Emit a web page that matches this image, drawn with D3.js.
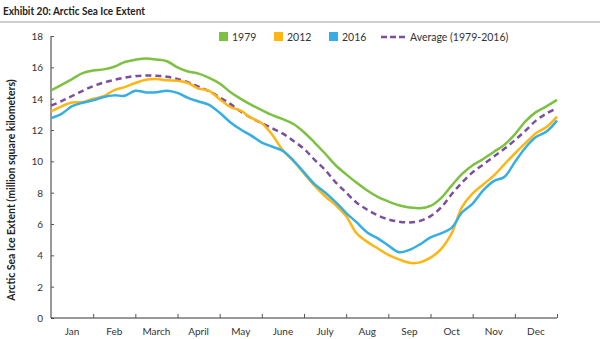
<!DOCTYPE html>
<html lang="en">
<head>
<meta charset="UTF-8">
<title>Arctic Sea Ice Extent</title>
<script src="https://cdnjs.cloudflare.com/ajax/libs/d3/7.8.5/d3.min.js"></script>
<style>
body { margin: 0; background: #fff; }
svg { font-family: Lato, "Open Sans", sans-serif; }
.title { font-size: 12px; font-weight: bold; fill: #222; }
.tick-label { font-size: 10px; fill: #333; }
.legend-text { font-size: 10.5px; fill: #333; }
.axis-title { font-size: 10.5px; font-weight: bold; fill: #222; }
</style>
</head>
<body>
<div id="chart"></div>
<script>
// month labels
var months = ['Jan', 'Feb', 'March', 'April', 'May', 'June', 'July', 'Aug', 'Sep', 'Oct', 'Nov', 'Dec'];
var yTicks = [0, 2, 4, 6, 8, 10, 12, 14, 16, 18];

// x positions in months (quarter month steps)
var pos = d3.range(0, 12.001, 0.25);

// million sq km
var y1979 = [14.52, 14.88, 15.25, 15.63, 15.8, 15.87, 16.04, 16.34, 16.49, 16.57, 16.5, 16.39,
  16.0, 15.73, 15.6, 15.33, 14.97, 14.43, 13.99, 13.61, 13.27, 12.95, 12.69, 12.38,
  11.86, 11.2, 10.5, 9.75, 9.17, 8.63, 8.14, 7.73, 7.44, 7.2, 7.06, 7.0,
  7.15, 7.65, 8.45, 9.2, 9.75, 10.15, 10.6, 11.05, 11.72, 12.55, 13.14, 13.51, 13.92];
var y2012 = [13.18, 13.51, 13.75, 13.78, 13.99, 14.16, 14.55, 14.74, 15.0, 15.21, 15.25, 15.17,
  15.14, 15.0, 14.64, 14.5, 13.97, 13.47, 13.23, 12.77, 12.43, 11.68, 10.7, 10.02,
  9.23, 8.45, 7.77, 7.2, 6.5, 5.4, 4.86, 4.44, 4.03, 3.74, 3.52, 3.55,
  3.85, 4.4, 5.4, 7.1, 7.96, 8.52, 9.09, 9.8, 10.5, 11.16, 11.8, 12.19, 12.85];
var y2016 = [12.76, 13.03, 13.52, 13.74, 13.9, 14.11, 14.21, 14.19, 14.5, 14.4, 14.41, 14.51,
  14.37, 14.05, 13.82, 13.6, 13.1, 12.5, 12.03, 11.64, 11.2, 10.93, 10.66, 10.05,
  9.3, 8.55, 8.01, 7.4, 6.7, 6.1, 5.46, 5.08, 4.63, 4.2, 4.35, 4.7,
  5.15, 5.4, 5.75, 6.75, 7.3, 8.15, 8.74, 9.0, 9.95, 10.87, 11.55, 11.9, 12.6];
var yAvg = [13.55, 13.84, 14.17, 14.5, 14.8, 15.03, 15.2, 15.34, 15.44, 15.48, 15.46, 15.4,
  15.26, 15.05, 14.76, 14.47, 14.09, 13.67, 13.18, 12.77, 12.43, 12.1, 11.77, 11.3,
  10.8, 10.1, 9.45, 8.66, 8.0, 7.36, 6.91, 6.55, 6.29, 6.15, 6.1, 6.2,
  6.5, 7.05, 7.9, 8.65, 9.3, 9.8, 10.3, 10.8, 11.35, 11.95, 12.6, 13.05, 13.4];

var series = [
  { name: '1979', values: y1979, color: '#7dc142', dash: null },
  { name: '2012', values: y2012, color: '#fdb614', dash: null },
  { name: '2016', values: y2016, color: '#35aee6', dash: null },
  { name: 'Average (1979-2016)', values: yAvg, color: '#7b4f9d', dash: '6,4' }
];

var W = 600, H = 339;
var svg = d3.select('#chart').append('svg').attr('width', W).attr('height', H);

// header
svg.append('text').attr('class', 'title').attr('x', 3).attr('y', 15)
  .attr('textLength', 142).attr('lengthAdjust', 'spacingAndGlyphs')
  .text('Exhibit 20: Arctic Sea Ice Extent');
svg.append('rect').attr('x', 0).attr('y', 21).attr('width', W).attr('height', 2).attr('fill', '#cfcfcf');

var x = d3.scaleLinear().domain([0, 12]).range([51, 557]);
var y = d3.scaleLinear().domain([0, 18]).range([318, 36]);

// axes
var yAxis = svg.append('g').attr('transform', 'translate(51,0)')
  .call(d3.axisRight(y).tickValues(yTicks).tickSize(3).tickFormat(''));
yAxis.select('.domain').attr('d', 'M0,' + y(18) + 'V' + y(0)).attr('stroke', '#333');
yAxis.selectAll('.tick line').attr('stroke', '#555');

svg.selectAll('.ylab').data(yTicks).enter().append('text')
  .attr('class', 'tick-label')
  .attr('x', 43).attr('y', function (d) { return y(d) + 4; })
  .attr('text-anchor', 'end')
  .text(function (d) { return d; });

var xAxis = svg.append('g').attr('transform', 'translate(0,' + y(0) + ')')
  .call(d3.axisTop(x).tickValues(d3.range(1, 13)).tickSize(4).tickFormat(''));
xAxis.select('.domain').attr('d', 'M' + x(0) + ',0H' + x(12)).attr('stroke', '#333');
xAxis.selectAll('.tick line').attr('stroke', '#555');

svg.selectAll('.xlab').data(months).enter().append('text')
  .attr('class', 'tick-label')
  .attr('x', function (d, i) { return x(i + 0.5); })
  .attr('y', 335)
  .attr('text-anchor', 'middle')
  .text(function (d) { return d; });

svg.append('text').attr('class', 'axis-title')
  .attr('transform', 'translate(15,' + 190 + ') rotate(-90)')
  .attr('text-anchor', 'middle')
  .text('Arctic Sea Ice Extent (million square kilometers)');

// lines
var line = d3.line()
  .x(function (d, i) { return x(pos[i]); })
  .y(function (d) { return y(d); })
  .curve(d3.curveCatmullRom.alpha(0.5));

var drawOrder = [series[0], series[3], series[1], series[2]];
svg.selectAll('.series').data(drawOrder).enter().append('path')
  .attr('d', function (s) { return line(s.values); })
  .attr('fill', 'none')
  .attr('stroke', function (s) { return s.color; })
  .attr('stroke-width', 2.5)
  .attr('stroke-dasharray', function (s) { return s.dash; });

// legend
var legendX = [219, 274, 329, 381];
var leg = svg.selectAll('.leg').data(series).enter().append('g')
  .attr('transform', function (d, i) { return 'translate(' + legendX[i] + ',37)'; });

leg.filter(function (d) { return !d.dash; }).append('rect')
  .attr('x', 0).attr('y', -5).attr('width', 9).attr('height', 9)
  .attr('fill', function (d) { return d.color; });
leg.filter(function (d) { return d.dash; }).append('line')
  .attr('x1', 0).attr('x2', 24).attr('y1', 0).attr('y2', 0)
  .attr('stroke', function (d) { return d.color; })
  .attr('stroke-width', 2.5)
  .attr('stroke-dasharray', '6,3');
leg.append('text').attr('class', 'legend-text')
  .attr('x', function (d) { return d.dash ? 29 : 13; })
  .attr('y', 4)
  .text(function (d) { return d.name; });
</script>
</body>
</html>
